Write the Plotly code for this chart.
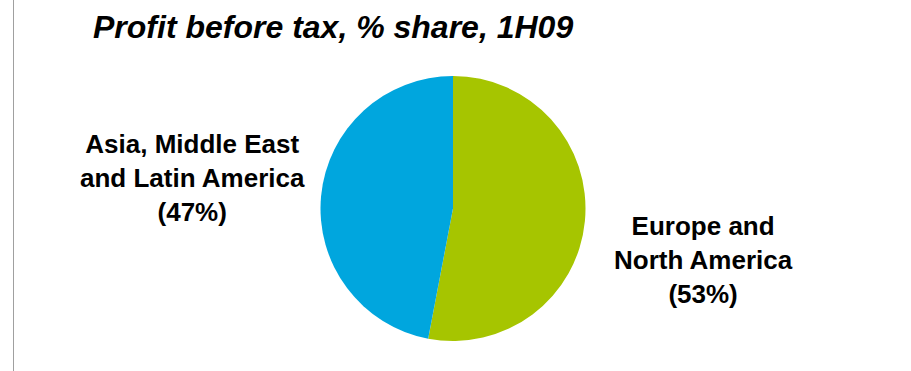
import plotly.graph_objects as go

W, H = 911, 371
categories = ["Europe and<br>North America", "Asia, Middle East<br>and Latin America"]
shares = [53, 47]
colors = ["#A6C500", "#00A6DE"]
label_texts = ["Europe and<br>North America<br>(53%)", "Asia, Middle East<br>and Latin America<br>(47%)"]
title_text = "Profit before tax, % share, 1H09"

fig = go.Figure()
fig.add_trace(go.Pie(
    labels=categories,
    values=shares,
    sort=False,
    direction="clockwise",
    rotation=0,
    marker=dict(colors=colors, line=dict(width=0)),
    textinfo="none",
    hoverinfo="label+percent",
    showlegend=False,
    domain=dict(x=[300 / W, 606 / W], y=[(H - 341) / H, (H - 76) / H]),
))

font = dict(family="Liberation Sans, Arial, sans-serif", size=26, color="#000000")
fig.add_annotation(text="<b>" + label_texts[1] + "</b>", x=192 / W, y=1 - 178 / H,
                   xref="paper", yref="paper", showarrow=False, align="center",
                   xanchor="center", yanchor="middle", font=font)
fig.add_annotation(text="<b>" + label_texts[0] + "</b>", x=703 / W, y=1 - 260 / H,
                   xref="paper", yref="paper", showarrow=False, align="center",
                   xanchor="center", yanchor="middle", font=font)
fig.add_annotation(text="<b><i>" + title_text + "</i></b>", x=333 / W, y=1 - 27 / H,
                   xref="paper", yref="paper", showarrow=False,
                   xanchor="center", yanchor="middle",
                   font=dict(family="Liberation Sans, Arial, sans-serif", size=32, color="#000000"))
fig.add_shape(type="line", x0=13.5 / W, x1=13.5 / W, y0=0, y1=1, xref="paper", yref="paper",
              line=dict(color="#A0A0A0", width=1))

fig.update_layout(width=W, height=H, margin=dict(l=0, r=0, t=0, b=0),
                  paper_bgcolor="white", plot_bgcolor="white")
fig.write_html("out.html")
